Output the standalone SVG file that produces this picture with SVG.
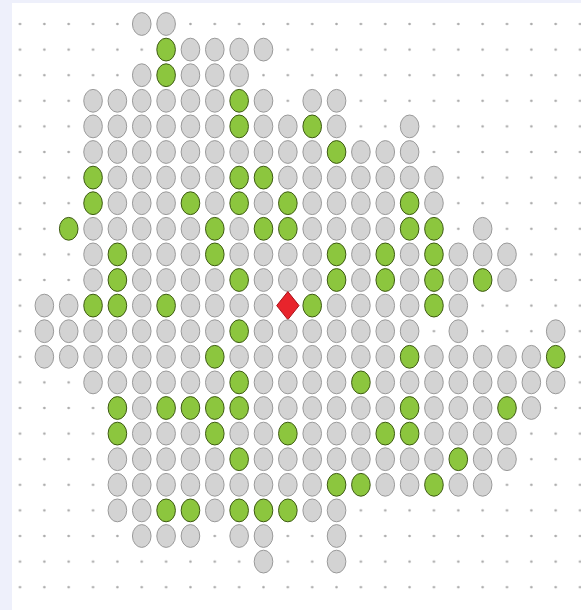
<svg xmlns="http://www.w3.org/2000/svg" xmlns:xlink="http://www.w3.org/1999/xlink" width="581" height="610" viewBox="0 0 581 610">
<defs>
<pattern id="dots" patternUnits="userSpaceOnUse" x="7.825" y="11.2" width="24.35" height="25.6">
<circle cx="12.175" cy="12.8" r="1.3" fill="#a8a8a8"/>
</pattern>
<ellipse id="o" cx="0" cy="0" rx="9.3" ry="11.4" fill="#d3d3d3" stroke="#9a9a9a" stroke-width="1"/>
<ellipse id="g" cx="0" cy="0" rx="9.3" ry="11.4" fill="#8cc63e" stroke="#3d5a12" stroke-width="1"/>
</defs>
<rect width="581" height="610" fill="#eef0fb"/>
<rect x="12" y="3" width="569" height="607" fill="#ffffff"/>
<rect x="12" y="3" width="569" height="607" fill="url(#dots)"/>
<g id="row0" transform="translate(0,24)"><use href="#o" x="141.75"/><use href="#o" x="166.1"/></g>
<g id="row1" transform="translate(0,49.6)"><use href="#g" x="166.1"/><use href="#o" x="190.45"/><use href="#o" x="214.8"/><use href="#o" x="239.15"/><use href="#o" x="263.5"/></g>
<g id="row2" transform="translate(0,75.2)"><use href="#o" x="141.75"/><use href="#g" x="166.1"/><use href="#o" x="190.45"/><use href="#o" x="214.8"/><use href="#o" x="239.15"/></g>
<g id="row3" transform="translate(0,100.8)"><use href="#o" x="93.05"/><use href="#o" x="117.4"/><use href="#o" x="141.75"/><use href="#o" x="166.1"/><use href="#o" x="190.45"/><use href="#o" x="214.8"/><use href="#g" x="239.15"/><use href="#o" x="263.5"/><use href="#o" x="312.2"/><use href="#o" x="336.55"/></g>
<g id="row4" transform="translate(0,126.4)"><use href="#o" x="93.05"/><use href="#o" x="117.4"/><use href="#o" x="141.75"/><use href="#o" x="166.1"/><use href="#o" x="190.45"/><use href="#o" x="214.8"/><use href="#g" x="239.15"/><use href="#o" x="263.5"/><use href="#o" x="287.85"/><use href="#g" x="312.2"/><use href="#o" x="336.55"/><use href="#o" x="409.6"/></g>
<g id="row5" transform="translate(0,152)"><use href="#o" x="93.05"/><use href="#o" x="117.4"/><use href="#o" x="141.75"/><use href="#o" x="166.1"/><use href="#o" x="190.45"/><use href="#o" x="214.8"/><use href="#o" x="239.15"/><use href="#o" x="263.5"/><use href="#o" x="287.85"/><use href="#o" x="312.2"/><use href="#g" x="336.55"/><use href="#o" x="360.9"/><use href="#o" x="385.25"/><use href="#o" x="409.6"/></g>
<g id="row6" transform="translate(0,177.6)"><use href="#g" x="93.05"/><use href="#o" x="117.4"/><use href="#o" x="141.75"/><use href="#o" x="166.1"/><use href="#o" x="190.45"/><use href="#o" x="214.8"/><use href="#g" x="239.15"/><use href="#g" x="263.5"/><use href="#o" x="287.85"/><use href="#o" x="312.2"/><use href="#o" x="336.55"/><use href="#o" x="360.9"/><use href="#o" x="385.25"/><use href="#o" x="409.6"/><use href="#o" x="433.95"/></g>
<g id="row7" transform="translate(0,203.2)"><use href="#g" x="93.05"/><use href="#o" x="117.4"/><use href="#o" x="141.75"/><use href="#o" x="166.1"/><use href="#g" x="190.45"/><use href="#o" x="214.8"/><use href="#g" x="239.15"/><use href="#o" x="263.5"/><use href="#g" x="287.85"/><use href="#o" x="312.2"/><use href="#o" x="336.55"/><use href="#o" x="360.9"/><use href="#o" x="385.25"/><use href="#g" x="409.6"/><use href="#o" x="433.95"/></g>
<g id="row8" transform="translate(0,228.8)"><use href="#g" x="68.7"/><use href="#o" x="93.05"/><use href="#o" x="117.4"/><use href="#o" x="141.75"/><use href="#o" x="166.1"/><use href="#o" x="190.45"/><use href="#g" x="214.8"/><use href="#o" x="239.15"/><use href="#g" x="263.5"/><use href="#g" x="287.85"/><use href="#o" x="312.2"/><use href="#o" x="336.55"/><use href="#o" x="360.9"/><use href="#o" x="385.25"/><use href="#g" x="409.6"/><use href="#g" x="433.95"/><use href="#o" x="482.65"/></g>
<g id="row9" transform="translate(0,254.4)"><use href="#o" x="93.05"/><use href="#g" x="117.4"/><use href="#o" x="141.75"/><use href="#o" x="166.1"/><use href="#o" x="190.45"/><use href="#g" x="214.8"/><use href="#o" x="239.15"/><use href="#o" x="263.5"/><use href="#o" x="287.85"/><use href="#o" x="312.2"/><use href="#g" x="336.55"/><use href="#o" x="360.9"/><use href="#g" x="385.25"/><use href="#o" x="409.6"/><use href="#g" x="433.95"/><use href="#o" x="458.3"/><use href="#o" x="482.65"/><use href="#o" x="507"/></g>
<g id="row10" transform="translate(0,280)"><use href="#o" x="93.05"/><use href="#g" x="117.4"/><use href="#o" x="141.75"/><use href="#o" x="166.1"/><use href="#o" x="190.45"/><use href="#o" x="214.8"/><use href="#g" x="239.15"/><use href="#o" x="263.5"/><use href="#o" x="287.85"/><use href="#o" x="312.2"/><use href="#g" x="336.55"/><use href="#o" x="360.9"/><use href="#g" x="385.25"/><use href="#o" x="409.6"/><use href="#g" x="433.95"/><use href="#o" x="458.3"/><use href="#g" x="482.65"/><use href="#o" x="507"/></g>
<g id="row11" transform="translate(0,305.6)"><use href="#o" x="44.35"/><use href="#o" x="68.7"/><use href="#g" x="93.05"/><use href="#g" x="117.4"/><use href="#o" x="141.75"/><use href="#g" x="166.1"/><use href="#o" x="190.45"/><use href="#o" x="214.8"/><use href="#o" x="239.15"/><use href="#o" x="263.5"/><polygon id="marker" points="287.85,-14 299,0 287.85,14 276.7,0" fill="#e8242c" stroke="#a81018" stroke-width="1"/><use href="#g" x="312.2"/><use href="#o" x="336.55"/><use href="#o" x="360.9"/><use href="#o" x="385.25"/><use href="#o" x="409.6"/><use href="#g" x="433.95"/><use href="#o" x="458.3"/></g>
<g id="row12" transform="translate(0,331.2)"><use href="#o" x="44.35"/><use href="#o" x="68.7"/><use href="#o" x="93.05"/><use href="#o" x="117.4"/><use href="#o" x="141.75"/><use href="#o" x="166.1"/><use href="#o" x="190.45"/><use href="#o" x="214.8"/><use href="#g" x="239.15"/><use href="#o" x="263.5"/><use href="#o" x="287.85"/><use href="#o" x="312.2"/><use href="#o" x="336.55"/><use href="#o" x="360.9"/><use href="#o" x="385.25"/><use href="#o" x="409.6"/><use href="#o" x="458.3"/><use href="#o" x="555.7"/></g>
<g id="row13" transform="translate(0,356.8)"><use href="#o" x="44.35"/><use href="#o" x="68.7"/><use href="#o" x="93.05"/><use href="#o" x="117.4"/><use href="#o" x="141.75"/><use href="#o" x="166.1"/><use href="#o" x="190.45"/><use href="#g" x="214.8"/><use href="#o" x="239.15"/><use href="#o" x="263.5"/><use href="#o" x="287.85"/><use href="#o" x="312.2"/><use href="#o" x="336.55"/><use href="#o" x="360.9"/><use href="#o" x="385.25"/><use href="#g" x="409.6"/><use href="#o" x="433.95"/><use href="#o" x="458.3"/><use href="#o" x="482.65"/><use href="#o" x="507"/><use href="#o" x="531.35"/><use href="#g" x="555.7"/></g>
<g id="row14" transform="translate(0,382.4)"><use href="#o" x="93.05"/><use href="#o" x="117.4"/><use href="#o" x="141.75"/><use href="#o" x="166.1"/><use href="#o" x="190.45"/><use href="#o" x="214.8"/><use href="#g" x="239.15"/><use href="#o" x="263.5"/><use href="#o" x="287.85"/><use href="#o" x="312.2"/><use href="#o" x="336.55"/><use href="#g" x="360.9"/><use href="#o" x="385.25"/><use href="#o" x="409.6"/><use href="#o" x="433.95"/><use href="#o" x="458.3"/><use href="#o" x="482.65"/><use href="#o" x="507"/><use href="#o" x="531.35"/><use href="#o" x="555.7"/></g>
<g id="row15" transform="translate(0,408)"><use href="#g" x="117.4"/><use href="#o" x="141.75"/><use href="#g" x="166.1"/><use href="#g" x="190.45"/><use href="#g" x="214.8"/><use href="#g" x="239.15"/><use href="#o" x="263.5"/><use href="#o" x="287.85"/><use href="#o" x="312.2"/><use href="#o" x="336.55"/><use href="#o" x="360.9"/><use href="#o" x="385.25"/><use href="#g" x="409.6"/><use href="#o" x="433.95"/><use href="#o" x="458.3"/><use href="#o" x="482.65"/><use href="#g" x="507"/><use href="#o" x="531.35"/></g>
<g id="row16" transform="translate(0,433.6)"><use href="#g" x="117.4"/><use href="#o" x="141.75"/><use href="#o" x="166.1"/><use href="#o" x="190.45"/><use href="#g" x="214.8"/><use href="#o" x="239.15"/><use href="#o" x="263.5"/><use href="#g" x="287.85"/><use href="#o" x="312.2"/><use href="#o" x="336.55"/><use href="#o" x="360.9"/><use href="#g" x="385.25"/><use href="#g" x="409.6"/><use href="#o" x="433.95"/><use href="#o" x="458.3"/><use href="#o" x="482.65"/><use href="#o" x="507"/></g>
<g id="row17" transform="translate(0,459.2)"><use href="#o" x="117.4"/><use href="#o" x="141.75"/><use href="#o" x="166.1"/><use href="#o" x="190.45"/><use href="#o" x="214.8"/><use href="#g" x="239.15"/><use href="#o" x="263.5"/><use href="#o" x="287.85"/><use href="#o" x="312.2"/><use href="#o" x="336.55"/><use href="#o" x="360.9"/><use href="#o" x="385.25"/><use href="#o" x="409.6"/><use href="#o" x="433.95"/><use href="#g" x="458.3"/><use href="#o" x="482.65"/><use href="#o" x="507"/></g>
<g id="row18" transform="translate(0,484.8)"><use href="#o" x="117.4"/><use href="#o" x="141.75"/><use href="#o" x="166.1"/><use href="#o" x="190.45"/><use href="#o" x="214.8"/><use href="#o" x="239.15"/><use href="#o" x="263.5"/><use href="#o" x="287.85"/><use href="#o" x="312.2"/><use href="#g" x="336.55"/><use href="#g" x="360.9"/><use href="#o" x="385.25"/><use href="#o" x="409.6"/><use href="#g" x="433.95"/><use href="#o" x="458.3"/><use href="#o" x="482.65"/></g>
<g id="row19" transform="translate(0,510.4)"><use href="#o" x="117.4"/><use href="#o" x="141.75"/><use href="#g" x="166.1"/><use href="#g" x="190.45"/><use href="#o" x="214.8"/><use href="#g" x="239.15"/><use href="#g" x="263.5"/><use href="#g" x="287.85"/><use href="#o" x="312.2"/><use href="#o" x="336.55"/></g>
<g id="row20" transform="translate(0,536)"><use href="#o" x="141.75"/><use href="#o" x="166.1"/><use href="#o" x="190.45"/><use href="#o" x="239.15"/><use href="#o" x="263.5"/><use href="#o" x="336.55"/></g>
<g id="row21" transform="translate(0,561.6)"><use href="#o" x="263.5"/><use href="#o" x="336.55"/></g>
</svg>
